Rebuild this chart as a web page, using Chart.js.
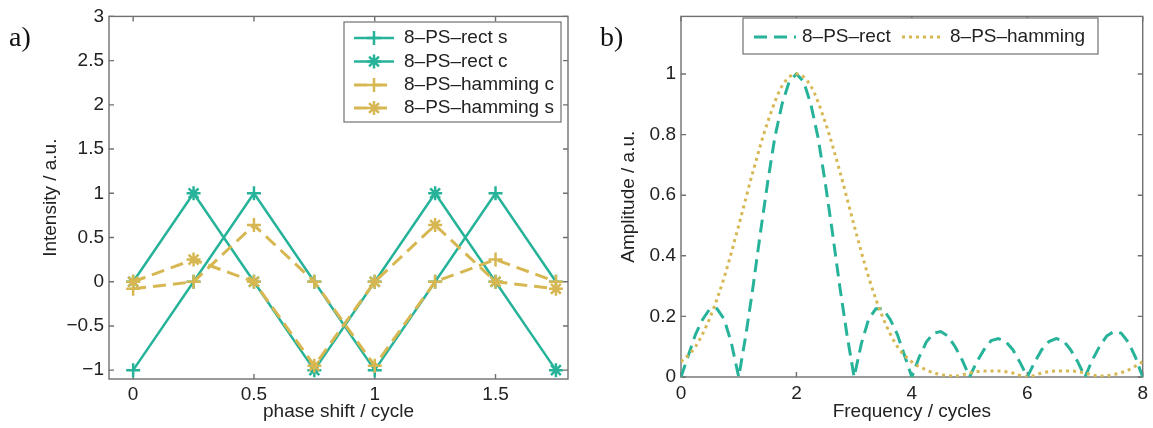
<!DOCTYPE html>
<html>
<head>
<meta charset="utf-8">
<script src="https://cdn.jsdelivr.net/npm/chart.js@4/dist/chart.umd.min.js"></script>
<style>
  body { margin: 0; background: #fff; }
  #wrap { position: relative; width: 1153px; height: 428px; }
  canvas { position: absolute; top: 0; }
  #phase { left: 0; }
  #spectrum { left: 580px; }
</style>
</head>
<body>
<div id="wrap">
  <canvas id="phase" width="580" height="428"></canvas>
  <canvas id="spectrum" width="573" height="428"></canvas>
</div>
<script>
// a) intensity over the phase shift, 8 steps per cycle
const phaseShift = [0, 0.25, 0.5, 0.75, 1, 1.25, 1.5, 1.75];
const rectS     = [-1, 0, 1, 0, -1, 0, 1, 0];
const rectC     = [0, 1, 0, -1, 0, 1, 0, -1];
const hammingC  = [-0.08, 0, 0.64, 0, -0.95, 0, 0.25, 0];
const hammingS  = [0, 0.25, 0, -0.95, 0, 0.64, 0, -0.08];

const phaseTicksX = [0, 0.5, 1, 1.5];
const phaseTicksY = [-1, -0.5, 0, 0.5, 1, 1.5, 2, 2.5, 3];

// b) amplitude spectrum
const freqRect = [0, 0.125, 0.25, 0.375, 0.5, 0.625, 0.75, 0.875,
  1, 1.125, 1.25, 1.375, 1.5, 1.625, 1.75, 1.875,
  2, 2.125, 2.25, 2.375, 2.5, 2.625, 2.75, 2.875,
  3, 3.125, 3.25, 3.375, 3.5, 3.625, 3.75, 3.875,
  4, 4.125, 4.25, 4.375, 4.5, 4.625, 4.75, 4.875,
  5, 5.125, 5.25, 5.375, 5.5, 5.625, 5.75, 5.875,
  6, 6.125, 6.25, 6.375, 6.5, 6.625, 6.75, 6.875,
  7, 7.125, 7.25, 7.375, 7.5, 7.625, 7.75, 7.875, 8];
const ampRect = [0, 0.07, 0.14, 0.19, 0.225, 0.225, 0.19, 0.11,
  0, 0.14, 0.30, 0.475, 0.64, 0.79, 0.90, 0.975,
  1, 0.975, 0.90, 0.79, 0.64, 0.475, 0.30, 0.14,
  0, 0.11, 0.19, 0.225, 0.225, 0.19, 0.14, 0.07,
  0, 0.065, 0.115, 0.145, 0.15, 0.135, 0.10, 0.055,
  0, 0.05, 0.09, 0.12, 0.127, 0.117, 0.09, 0.048,
  0, 0.048, 0.09, 0.117, 0.127, 0.12, 0.09, 0.05,
  0, 0.055, 0.10, 0.135, 0.15, 0.145, 0.115, 0.065, 0];

const freqHamming = [0, 0.25, 0.5, 0.75, 1, 1.25, 1.5, 1.75,
  2, 2.25, 2.5, 2.75, 3, 3.25, 3.5, 3.75,
  4, 4.25, 4.5, 4.75, 5, 5.25, 5.5, 5.75,
  6, 6.25, 6.5, 6.75, 7, 7.25, 7.5, 7.75, 8];
const ampHamming = [0.05, 0.10, 0.195, 0.33, 0.50, 0.68, 0.84, 0.96,
  1, 0.96, 0.84, 0.68, 0.50, 0.33, 0.195, 0.10,
  0.05, 0.023, 0.008, 0.003, 0.013, 0.02, 0.02, 0.013,
  0, 0.013, 0.02, 0.02, 0.013, 0.003, 0.008, 0.023, 0.05];

const specTicksX = [0, 2, 4, 6, 8];
const specTicksY = [0, 0.2, 0.4, 0.6, 0.8, 1];

const TEAL = '#27b39a';
const GOLD = '#d6b752';
const AXIS = '#707070';

Chart.defaults.font.family = '"Liberation Sans", Arial, sans-serif';
Chart.defaults.font.size = 19;
Chart.defaults.color = '#222';

function pairs(xs, ys) {
  return xs.map((x, i) => ({ x: x, y: ys[i] }));
}

function minusSign(v) {
  return String(v).replace('-', '\u2212');
}

// box around the axes with inward ticks on all four sides, legend and panel tag
const matlabFrame = {
  id: 'matlabFrame',
  beforeDatasetsDraw(chart, args, opts) {
    const ctx = chart.ctx;
    const a = chart.chartArea;
    const xs = chart.scales.x, ys = chart.scales.y;
    ctx.save();
    ctx.strokeStyle = AXIS;
    ctx.lineWidth = 1.4;
    ctx.strokeRect(a.left, a.top, a.right - a.left, a.bottom - a.top);
    ctx.beginPath();
    xs.ticks.forEach(t => {
      const px = xs.getPixelForValue(t.value);
      ctx.moveTo(px, a.bottom); ctx.lineTo(px, a.bottom - 5);
      ctx.moveTo(px, a.top); ctx.lineTo(px, a.top + 5);
    });
    ys.ticks.forEach(t => {
      const py = ys.getPixelForValue(t.value);
      ctx.moveTo(a.left, py); ctx.lineTo(a.left + 5, py);
      ctx.moveTo(a.right, py); ctx.lineTo(a.right - 5, py);
    });
    ctx.stroke();
    ctx.restore();
  },
  afterDatasetsDraw(chart, args, opts) {
    const ctx = chart.ctx;
    const lg = opts.legend;
    ctx.save();
    ctx.fillStyle = '#fff';
    ctx.fillRect(lg.box[0], lg.box[1], lg.box[2], lg.box[3]);
    ctx.strokeStyle = AXIS;
    ctx.lineWidth = 1.2;
    ctx.strokeRect(lg.box[0], lg.box[1], lg.box[2], lg.box[3]);

    chart.data.datasets.forEach((ds, i) => {
      const [sx, sy] = lg.items[i];
      ctx.save();
      ctx.strokeStyle = ds.borderColor;
      ctx.lineWidth = ds.borderWidth;
      ctx.setLineDash(ds.borderDash || []);
      ctx.beginPath();
      ctx.moveTo(sx, sy);
      ctx.lineTo(sx + lg.sample, sy);
      ctx.stroke();
      ctx.setLineDash([]);
      if (ds.pointRadius > 0) {
        ctx.lineWidth = ds.pointBorderWidth;
        Chart.helpers.drawPoint(ctx, {
          pointStyle: ds.pointStyle,
          radius: ds.pointRadius,
          borderWidth: ds.pointBorderWidth,
          rotation: 0
        }, sx + lg.sample / 2, sy);
      }
      ctx.restore();
      ctx.fillStyle = '#222';
      ctx.font = '19px "Liberation Sans", Arial, sans-serif';
      ctx.textBaseline = 'middle';
      ctx.textAlign = 'left';
      ctx.fillText(ds.label, sx + lg.sample + lg.gap, sy);
    });

    ctx.fillStyle = '#111';
    ctx.font = '28px "Liberation Serif", "DejaVu Serif", serif';
    ctx.textBaseline = 'alphabetic';
    ctx.fillText(opts.tag.text, opts.tag.x, opts.tag.y);
    ctx.restore();
  }
};

function axisOpts(cfg) {
  return {
    type: 'linear',
    min: cfg.min,
    max: cfg.max,
    afterBuildTicks: s => { s.ticks = cfg.ticks.map(v => ({ value: v })); },
    afterFit: cfg.fit,
    grid: { display: false, drawTicks: false },
    border: { display: false },
    ticks: { padding: cfg.pad, autoSkip: false, maxRotation: 0, callback: minusSign, color: '#222' },
    title: { display: true, text: cfg.title, color: '#222', padding: cfg.titlePad }
  };
}

new Chart(document.getElementById('phase'), {
  type: 'line',
  data: {
    datasets: [
      { label: '8\u2013PS\u2013rect s', data: pairs(phaseShift, rectS), order: 4,
        borderColor: TEAL, borderWidth: 2.5, pointStyle: 'cross', pointRadius: 7, pointBorderWidth: 2.5 },
      { label: '8\u2013PS\u2013rect c', data: pairs(phaseShift, rectC), order: 3,
        borderColor: TEAL, borderWidth: 2.5, pointStyle: 'star', pointRadius: 7, pointBorderWidth: 2.5 },
      { label: '8\u2013PS\u2013hamming c', data: pairs(phaseShift, hammingC), order: 2,
        borderColor: GOLD, borderWidth: 3, borderDash: [13, 7], pointStyle: 'cross', pointRadius: 7, pointBorderWidth: 2.5 },
      { label: '8\u2013PS\u2013hamming s', data: pairs(phaseShift, hammingS), order: 1,
        borderColor: GOLD, borderWidth: 3, borderDash: [13, 7], pointStyle: 'star', pointRadius: 7, pointBorderWidth: 2.5 }
    ]
  },
  options: {
    responsive: false,
    animation: false,
    layout: { padding: { left: 35, top: 16, right: 12, bottom: 0 } },
    elements: { line: { tension: 0, fill: false }, point: { borderColor: ctx => ctx.dataset.borderColor, backgroundColor: 'transparent' } },
    scales: {
      x: axisOpts({ min: -0.1, max: 1.8, ticks: phaseTicksX, pad: 4, title: 'phase shift / cycle',
        titlePad: { top: 0, bottom: 5 }, fit: s => { s.height = 49; } }),
      y: axisOpts({ min: -1.1, max: 3, ticks: phaseTicksY, pad: 5, title: 'Intensity / a.u.',
        titlePad: { top: 4, bottom: 4 }, fit: s => { s.width = 74; } })
    },
    plugins: {
      legend: { display: false },
      tooltip: { enabled: false },
      matlabFrame: {
        legend: { box: [344, 22, 217, 100], sample: 40, gap: 10,
          items: [[354, 38], [354, 61.5], [354, 85], [354, 108]] },
        tag: { text: 'a)', x: 9, y: 46 }
      }
    }
  },
  plugins: [matlabFrame]
});

new Chart(document.getElementById('spectrum'), {
  type: 'line',
  data: {
    datasets: [
      { label: '8\u2013PS\u2013rect', data: pairs(freqRect, ampRect), order: 2,
        borderColor: TEAL, borderWidth: 3, borderDash: [13, 7], pointRadius: 0, tension: 0 },
      { label: '8\u2013PS\u2013hamming', data: pairs(freqHamming, ampHamming), order: 1,
        borderColor: GOLD, borderWidth: 3, borderDash: [3, 4], pointRadius: 0, cubicInterpolationMode: 'monotone' }
    ]
  },
  options: {
    responsive: false,
    animation: false,
    layout: { padding: { left: 33, top: 10, right: 9, bottom: 0 } },
    elements: { line: { fill: false } },
    scales: {
      x: axisOpts({ min: 0, max: 8, ticks: specTicksX, pad: 5, title: 'Frequency / cycles',
        titlePad: { top: 0, bottom: 5 }, fit: s => { s.height = 51; } }),
      y: axisOpts({ min: 0, max: 1.19, ticks: specTicksY, pad: 5, title: 'Amplitude / a.u.',
        titlePad: { top: 4, bottom: 4 }, fit: s => { s.width = 68; } })
    },
    plugins: {
      legend: { display: false },
      tooltip: { enabled: false },
      matlabFrame: {
        legend: { box: [163, 18, 355, 36], sample: 42, gap: 6,
          items: [[174, 37], [322, 37]] },
        tag: { text: 'b)', x: 20, y: 46 }
      }
    }
  },
  plugins: [matlabFrame]
});
</script>
</body>
</html>
